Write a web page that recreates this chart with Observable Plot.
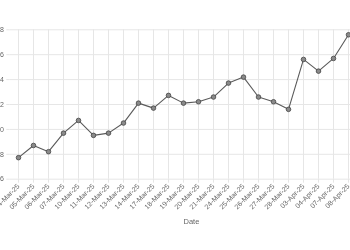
<!DOCTYPE html>
<html>
<head>
<meta charset="utf-8">
<script src="https://cdn.jsdelivr.net/npm/d3@7"></script>
<script src="https://cdn.jsdelivr.net/npm/@observablehq/plot@0.6"></script>
<style>
  html, body { margin: 0; padding: 0; width: 350px; height: 250px; overflow: hidden; background: #fff; }
  #chart { position: relative; width: 350px; height: 250px; }
  #chart svg { max-width: none !important; width: 430px !important; height: 250px !important; will-change: transform; transform: translateZ(0); }
  #chart svg text { -webkit-font-smoothing: antialiased; }
</style>
</head>
<body>
<div id="chart"></div>
<script>
const dates = ["04-Mar-25","05-Mar-25","06-Mar-25","07-Mar-25","10-Mar-25","11-Mar-25","12-Mar-25","13-Mar-25","14-Mar-25","17-Mar-25","18-Mar-25","19-Mar-25","20-Mar-25","21-Mar-25","24-Mar-25","25-Mar-25","26-Mar-25","27-Mar-25","28-Mar-25","03-Apr-25","04-Apr-25","07-Apr-25","08-Apr-25"];
const values = [7.73, 8.71, 8.21, 9.70, 10.72, 9.52, 9.70, 10.51, 12.11, 11.71, 12.73, 12.11, 12.22, 12.60, 13.72, 14.20, 12.60, 12.22, 11.61, 15.62, 14.68, 15.70, 17.6];
const yTicks = [6, 8, 10, 12, 14, 16, 18];
const xTitle = "Date";

const data = dates.map((d, i) => ({date: d, value: values[i]}));

const grid = "#e6e6e6";
const textColor = "#666";
const fs = 7;

const plot = Plot.plot({
  width: 430,
  height: 250,
  marginLeft: 49.3,
  marginRight: 17.5,
  marginTop: 29.3,
  marginBottom: 71.3,
  style: {position: "absolute", left: "-40px", top: "0px", maxWidth: "none", fontFamily: "'Liberation Sans', Arial, sans-serif", background: "#fff"},
  x: {type: "point", domain: dates, range: [49.3, 396.7]},
  y: {domain: [6, 18], ticks: yTicks},
  marks: [
    Plot.gridY(yTicks, {stroke: grid, strokeOpacity: 1, strokeWidth: 1}),
    Plot.gridX(dates, {stroke: grid, strokeOpacity: 1, strokeWidth: 1}),
    Plot.axisY(yTicks, {tickSize: 3, tickPadding: 3, stroke: grid, fill: textColor, fontSize: fs, label: null, tickFormat: d => String(d)}),
    Plot.axisX(dates, {tickSize: 4, tickPadding: 2, tickRotate: -45, stroke: grid, fill: textColor, fontSize: fs, label: null}),
    Plot.line(data, {x: "date", y: "value", stroke: "#5a5a5a", strokeWidth: 1.1}),
    Plot.dot(data, {x: "date", y: "value", r: 2.3, fill: "#8a8a8a", stroke: "#444", strokeWidth: 0.8}),
    Plot.text([xTitle], {frameAnchor: "bottom", dy: 45, text: d => d, fill: textColor, fontSize: 7.5})
  ]
});
document.getElementById("chart").appendChild(plot);
</script>
</body>
</html>
